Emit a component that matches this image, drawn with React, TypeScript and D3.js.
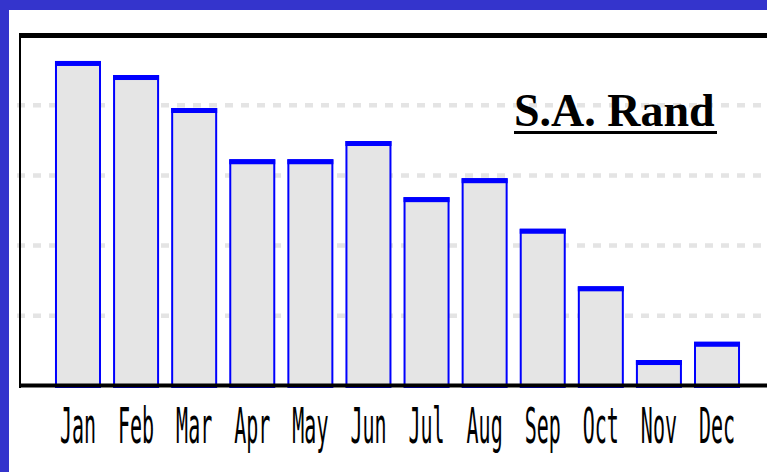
import React from "react";
import * as d3 from "d3";

const months = ["Jan", "Feb", "Mar", "Apr", "May", "Jun", "Jul", "Aug", "Sep", "Oct", "Nov", "Dec"];
const values = [46.3, 44.3, 39.6, 32.3, 32.3, 34.9, 26.9, 29.6, 22.4, 14.2, 3.7, 6.3];
const gridTicks = [10, 20, 30, 40];
const title = "S.A. Rand";

const W = 767;
const H = 472;

export default function App() {
  const x = d3.scaleBand<string>().domain(months).range([49, 746]).paddingInner(0.208).paddingOuter(0.103);
  const y = d3.scaleLinear().domain([0, 50]).range([386, 35]);
  const bw = x.bandwidth();

  return (
    <div style={{ position: "fixed", left: 0, top: 0 }}>
      <svg width={W} height={H} style={{ display: "block" }}>
        <rect x={0} y={0} width={W} height={H} fill="#ffffff" />
        {/* blue frame */}
        <rect x={0} y={0} width={W} height={10} fill="#3434cc" />
        <rect x={0} y={0} width={9} height={H} fill="#3434cc" />
        {/* gridlines */}
        {gridTicks.map((t) => (
          <line
            key={t}
            x1={17}
            x2={W}
            y1={y(t)}
            y2={y(t)}
            stroke="#e4e4e4"
            strokeWidth={4.5}
            strokeDasharray="8,8"
          />
        ))}
        {/* bars */}
        {months.map((m, i) => {
          const x0 = x(m)!;
          const top = y(values[i]);
          return (
            <g key={m}>
              <rect
                x={x0 + 1}
                y={top + 1}
                width={bw - 2}
                height={y(0) - top}
                fill="#e5e5e5"
                stroke="#0000ff"
                strokeWidth={2}
              />
              <rect x={x0} y={top} width={bw} height={5} fill="#0000ff" />
            </g>
          );
        })}
        {/* plot frame */}
        <rect x={19} y={33} width={W - 19} height={5} fill="#000" />
        <rect x={19} y={33} width={2} height={355} fill="#000" />
        <rect x={19} y={y(0) - 2.5} width={W - 19} height={4} fill="#000" />
        {/* title */}
        <text
          x={514}
          y={126}
          fontFamily="'Liberation Serif', 'Times New Roman', serif"
          fontWeight="bold"
          fontSize={46}
          fill="#000"
        >
          {title}
        </text>
        <rect x={514} y={131} width={203} height={3} fill="#000" />
        {/* month labels */}
        {months.map((m) => (
          <text
            key={m}
            transform={`translate(${x(m)! + bw / 2},443) scale(1,2.45)`}
            textAnchor="middle"
            fontFamily="'DejaVu Sans Mono', monospace"
            fontSize={20}
            fill="#000"
          >
            {m}
          </text>
        ))}
      </svg>
    </div>
  );
}
